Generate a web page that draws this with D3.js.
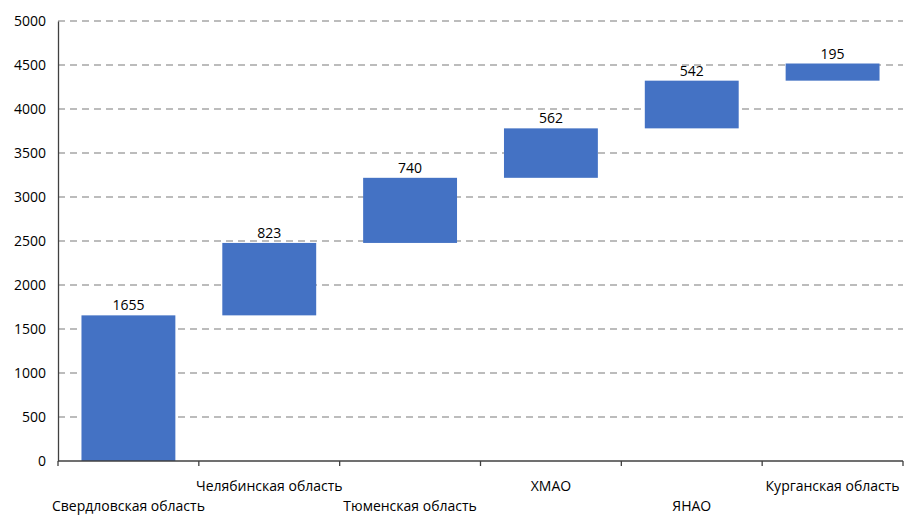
<!DOCTYPE html>
<html><head><meta charset="utf-8">
<script src="https://cdn.jsdelivr.net/npm/d3@7"></script>
<style>body{margin:0;background:#fff;} text{font-family:"Open Sans",sans-serif;}</style>
</head><body>
<svg id="c" width="916" height="526"></svg>
<script>
const categories = ["Свердловская область","Челябинская область","Тюменская область","ХМАО","ЯНАО","Курганская область"];
const values = [1655, 823, 740, 562, 542, 195];
const yTicks = [0,500,1000,1500,2000,2500,3000,3500,4000,4500,5000];

const svg = d3.select("#c");
const m = {l:58, r:13, t:21, b:65};
const W = 916, H = 526;
const x = d3.scaleBand().domain(categories).range([m.l, W-m.r]).paddingInner(1/3).paddingOuter(1/6);
const y = d3.scaleLinear().domain([0,5000]).range([H-m.b, m.t]);

let cum = 0;
const data = categories.map((c,i)=>{const s=cum; cum+=values[i]; return {c, v:values[i], s, e:cum, i};});

// grid
svg.append("g").selectAll("line").data(yTicks.filter(d=>d>0)).join("line")
  .attr("x1", m.l).attr("x2", W-m.r).attr("y1", d=>y(d)).attr("y2", d=>y(d))
  .attr("stroke","#a6a6a6").attr("stroke-width",1.3).attr("stroke-dasharray","7,5");

// bars
svg.append("g").selectAll("rect").data(data).join("rect")
  .attr("x", d=>x(d.c)).attr("width", x.bandwidth())
  .attr("y", d=>y(d.e)).attr("height", d=>y(d.s)-y(d.e))
  .attr("fill","#4472c4");

svg.append("g").selectAll("text").data(data).join("text")
  .attr("x", d=>x(d.c)+x.bandwidth()/2).attr("y", d=>y(d.e)-5)
  .attr("text-anchor","middle").attr("font-size",14).attr("fill","#000")
  .text(d=>d.v);

// y axis
const ya = svg.append("g").attr("transform",`translate(${m.l},0)`)
  .call(d3.axisLeft(y).tickValues(yTicks).tickSize(0).tickPadding(12).tickFormat(d3.format("d")));
ya.select(".domain").attr("stroke","#404040").attr("stroke-width",1.3);
ya.selectAll("text").attr("font-size",14).attr("fill","#000").style("font-family","'Open Sans',sans-serif");

// x axis
const step = x.step();
const bounds = d3.range(categories.length+1).map(i=>m.l + i*step);
svg.append("line").attr("x1",m.l).attr("x2",W-m.r).attr("y1",y(0)).attr("y2",y(0)).attr("stroke","#404040").attr("stroke-width",1.3);
svg.append("g").selectAll("line").data(bounds).join("line")
  .attr("x1",d=>d).attr("x2",d=>d).attr("y1",y(0)).attr("y2",y(0)+5).attr("stroke","#404040").attr("stroke-width",1.3);
svg.append("g").selectAll("text").data(data).join("text")
  .attr("x", d=>x(d.c)+x.bandwidth()/2)
  .attr("y", d=> d.i%2===0 ? 511 : 491)
  .attr("text-anchor","middle").attr("font-size",14).attr("fill","#000")
  .text(d=>d.c);
</script>
</body></html>
